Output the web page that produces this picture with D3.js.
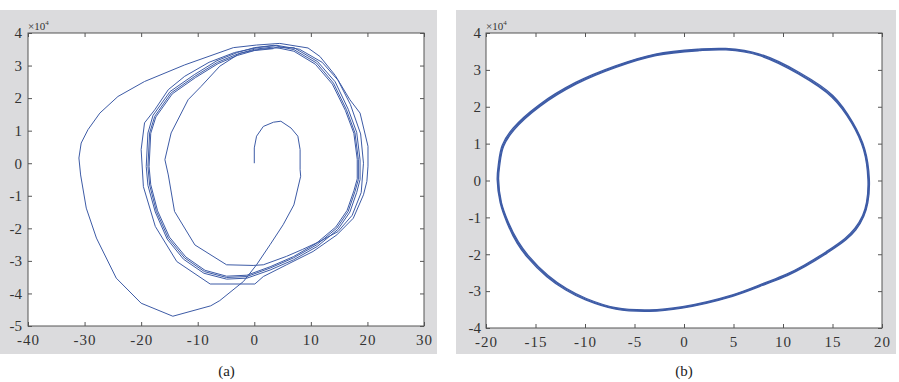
<!DOCTYPE html>
<html>
<head>
<meta charset="utf-8">
<script src="https://cdn.jsdelivr.net/npm/d3@7"></script>
<style>
  body { margin: 0; background: #fff; }
  svg { display: block; }
</style>
</head>
<body>
<svg id="chart" width="899" height="382"></svg>
<script>
// ---- data (y values in units of 1e4) ----
const leftXTicks = [-40, -30, -20, -10, 0, 10, 20, 30];
const leftYTicks = [-5, -4, -3, -2, -1, 0, 1, 2, 3, 4];
const rightXTicks = [-20, -15, -10, -5, 0, 5, 10, 15, 20];
const rightYTicks = [-4, -3, -2, -1, 0, 1, 2, 3, 4];

// (a) transient spiral from the origin out to the big first orbit
const transient = [
  [0,0],[0,0.47],[0.4,0.83],[1.6,1.13],[3.4,1.26],[4.7,1.29],[6.5,1.08],[7.7,0.83],[8.1,0.42],[8.1,-0.2],
  [8.2,-0.4],[7.0,-1.28],[5.1,-1.89],[2.8,-2.5],[0.4,-3.12],[-1.9,-3.63],[-6.1,-4.22],[-7.7,-4.38],[-14.4,-4.7],
  [-20,-4.3],[-24.4,-3.53],[-27.9,-2.3],[-29.7,-1.38],[-30.7,-0.36],[-31,0.16],[-30.6,0.62],[-29.4,1.03],
  [-27.3,1.54],[-24.1,2.05],[-19.4,2.51],[-12.3,3.02],[-3.7,3.55],[0.4,3.63],[4.5,3.68],[9.5,3.54],[11.6,3.28],
  [14.3,2.7],[16.9,1.95],[18.7,1.54],[20.1,0.52],[20.1,-0.09],[19.9,-0.56],[19.3,-0.97],[17.5,-1.69],[14.6,-2.2],
  [10.4,-2.71],[5.7,-3.12],[1.6,-3.48],[0.1,-3.71],[-7.8,-3.71],[-13.7,-3.02],[-17.5,-1.94],[-19.6,-0.72],
  [-20,0.42],[-19.4,1.24],[-17.6,1.64],[-15.2,2.26],[-12.3,2.67],[-8,3.1],[-3.5,3.4],[0.5,3.55],[4.0,3.62]
];
// (a) second orbit, dipping inside the cycle
const innerOrbit = [
  [8,3.5],[12,3.1],[14.8,2.55],[17,1.8],[18.8,0.9],[19.3,0],[18.9,-0.9],[17.3,-1.6],[14.8,-2.1],[11.6,-2.4],
  [8.5,-2.65],[5.7,-2.86],[1.6,-3.12],[-0.2,-3.14],[-4.9,-3.12],[-10.5,-2.51],[-14.1,-1.48],[-15.2,-0.36],
  [-15.8,0.11],[-14.7,0.93],[-11.7,1.95],[-9.4,2.36],[-6.1,2.98],[-2.5,3.38],[1,3.5],[4.5,3.55]
];
// (a) orbits settling on the limit cycle
const cycleB = [
  [7,3.55],[11.2,3.12],[14.3,2.5],[16.6,1.66],[18.1,0.95],[18.7,0.1],[18.7,-0.5],[18.1,-0.9],[16.9,-1.5],
  [14.8,-2.03],[11.1,-2.56],[6.9,-2.97],[2.8,-3.28],[-1.3,-3.53],[-4.9,-3.56],[-8.9,-3.38],[-12.5,-2.95],
  [-15.4,-2.33],[-17.5,-1.5],[-18.8,-0.68],[-19.1,-0.1],[-18.8,0.93],[-17.9,1.47],[-14.9,2.2],[-10.6,2.72],
  [-6.6,3.15],[-3,3.4],[0,3.55],[3.4,3.62]
];
const cycleA = [
  [7,3.49],[11,3.08],[14,2.46],[16.3,1.64],[17.8,0.93],[18.4,0.11],[18.4,-0.5],[17.8,-0.87],[16.6,-1.48],
  [14.6,-1.99],[11,-2.51],[6.9,-2.91],[2.8,-3.22],[-1.3,-3.48],[-4.9,-3.51],[-8.8,-3.33],[-12.3,-2.91],
  [-15.2,-2.3],[-17.3,-1.48],[-18.5,-0.67],[-18.8,-0.1],[-18.5,0.93],[-17.6,1.44],[-14.7,2.16],[-10.5,2.67],
  [-6.5,3.1],[-3,3.35],[0,3.5],[3.4,3.57]
];
const cycleC = [
  [7,3.44],[10.8,3.04],[13.8,2.43],[16.1,1.62],[17.6,0.92],[18.2,0.12],[18.2,-0.48],[17.6,-0.85],[16.4,-1.45],
  [14.4,-1.96],[10.9,-2.47],[6.9,-2.87],[2.8,-3.18],[-1.3,-3.44],[-4.9,-3.47],[-8.7,-3.29],[-12.1,-2.88],
  [-15,-2.27],[-17.1,-1.46],[-18.3,-0.66],[-18.6,-0.1],[-18.3,0.92],[-17.4,1.42],[-14.5,2.13],[-10.4,2.63],
  [-6.4,3.06],[-3,3.31],[0,3.46],[3.4,3.52]
];

// (b) steady-state cycle, a few overlapping laps
const rightLoopA = [
  [-18.8,0.03],[-18.7,0.39],[-18.3,0.93],[-17.2,1.4],[-14.6,2.03],[-10.9,2.64],[-6.9,3.09],[-2.86,3.41],
  [1.5,3.54],[4.2,3.56],[7.6,3.41],[11.6,2.91],[15.0,2.28],[17.0,1.56],[18.2,0.84],[18.65,0.03],[18.5,-0.6],
  [18.1,-0.96],[17.3,-1.32],[16.3,-1.59],[14.4,-1.95],[12.2,-2.31],[10.4,-2.56],[8.25,-2.79],[4.9,-3.12],
  [-0.17,-3.44],[-3.5,-3.53],[-6.9,-3.47],[-9.9,-3.22],[-11.9,-2.95],[-13.8,-2.59],[-15.8,-2.05],[-16.8,-1.68],
  [-17.8,-1.14],[-18.5,-0.6]
];
const rightLoopB = [
  [-18.87,0.02],[-18.77,0.4],[-18.37,0.95],[-17.27,1.42],[-14.66,2.05],[-10.95,2.66],[-6.93,3.11],[-2.88,3.43],
  [1.46,3.56],[4.2,3.58],[7.64,3.43],[11.66,2.93],[15.06,2.3],[17.06,1.57],[18.26,0.85],[18.72,0.04],[18.57,-0.6],
  [18.16,-0.97],[17.36,-1.34],[16.36,-1.61],[14.45,-1.97],[12.25,-2.33],[10.44,-2.58],[8.28,-2.81],[4.9,-3.14],
  [-0.2,-3.46],[-3.5,-3.55],[-6.9,-3.49],[-9.94,-3.24],[-11.95,-2.97],[-13.86,-2.61],[-15.86,-2.07],[-16.86,-1.7],
  [-17.87,-1.15],[-18.57,-0.6]
];
const rightLoopC = [
  [-18.73,0.04],[-18.63,0.38],[-18.23,0.92],[-17.14,1.38],[-14.55,2.01],[-10.86,2.62],[-6.87,3.07],[-2.84,3.39],
  [1.52,3.52],[4.24,3.54],[7.57,3.39],[11.55,2.89],[14.94,2.26],[16.95,1.55],[18.14,0.83],[18.58,0.02],[18.43,-0.6],
  [18.04,-0.95],[17.25,-1.3],[16.25,-1.57],[14.36,-1.93],[12.16,-2.29],[10.36,-2.54],[8.22,-2.77],[4.9,-3.1],
  [-0.15,-3.42],[-3.5,-3.51],[-6.9,-3.45],[-9.86,-3.2],[-11.86,-2.93],[-13.75,-2.57],[-15.74,-2.03],[-16.74,-1.66],
  [-17.74,-1.13],[-18.44,-0.6]
];

const leftTrack = [].concat(transient, innerOrbit, cycleB, cycleA, cycleC);
const rightLoops = [rightLoopB, rightLoopA, rightLoopC];

// ---- layout ----
const svg = d3.select("#chart");
const lineColor = "#3d5ba6";
const serif = '"Liberation Serif", "Times New Roman", serif';

const panels = [
  { bg: [0, 10, 437, 344], left: 28, right: 424, top: 33, bottom: 326,
    xDomain: [-40, 30], yDomain: [-5, 4], xTicks: leftXTicks, yTicks: leftYTicks, yPad: 6, caption: "(a)" },
  { bg: [456, 10, 440, 344], left: 486, right: 882, top: 33, bottom: 328,
    xDomain: [-20, 20], yDomain: [-4, 4], xTicks: rightXTicks, yTicks: rightYTicks, yPad: 5, caption: "(b)" }
];

panels.forEach((p, i) => {
  const g = svg.append("g");

  g.append("rect")
    .attr("x", p.bg[0]).attr("y", p.bg[1])
    .attr("width", p.bg[2]).attr("height", p.bg[3])
    .attr("fill", "#dbdbdd");

  g.append("rect")
    .attr("x", p.left).attr("y", p.top)
    .attr("width", p.right - p.left).attr("height", p.bottom - p.top)
    .attr("fill", "#fff");

  const x = d3.scaleLinear().domain(p.xDomain).range([p.left, p.right]);
  const y = d3.scaleLinear().domain(p.yDomain).range([p.bottom, p.top]);

  // curves
  const plot = g.append("g");
  if (i === 0) {
    const line = d3.line().x(d => x(d[0])).y(d => y(d[1]));
    plot.append("path")
      .attr("d", line(leftTrack))
      .attr("fill", "none")
      .attr("stroke", lineColor)
      .attr("stroke-width", 1)
      .attr("stroke-linejoin", "round");
  } else {
    const loop = d3.line().x(d => x(d[0])).y(d => y(d[1])).curve(d3.curveCatmullRomClosed);
    plot.selectAll("path")
      .data(rightLoops)
      .join("path")
        .attr("d", d => loop(d))
        .attr("fill", "none")
        .attr("stroke", lineColor)
        .attr("stroke-width", 1.3);
  }

  // axes: inward ticks on all four sides, MATLAB style
  const fmt = d => String(d);
  const styleAxis = sel => {
    sel.attr("font-family", serif).attr("font-size", 15);
    sel.selectAll("text").attr("fill", "#333");
    sel.selectAll("line").attr("stroke", "#555");
  };

  g.append("g")
    .attr("transform", `translate(0,${p.bottom})`)
    .call(d3.axisBottom(x).tickValues(p.xTicks).tickSize(-4).tickPadding(8).tickFormat(fmt))
    .call(styleAxis)
    .selectAll("text").style("letter-spacing", "1px");

  g.append("g")
    .attr("transform", `translate(${p.left},0)`)
    .call(d3.axisLeft(y).tickValues(p.yTicks).tickSize(-4).tickPadding(p.yPad).tickFormat(fmt))
    .call(styleAxis);

  g.append("g")
    .attr("transform", `translate(0,${p.top})`)
    .call(d3.axisTop(x).tickValues(p.xTicks).tickSize(-4).tickFormat(""))
    .call(styleAxis);

  g.append("g")
    .attr("transform", `translate(${p.right},0)`)
    .call(d3.axisRight(y).tickValues(p.yTicks).tickSize(-4).tickFormat(""))
    .call(styleAxis);

  g.selectAll(".domain").remove();

  g.append("rect")
    .attr("x", p.left).attr("y", p.top)
    .attr("width", p.right - p.left).attr("height", p.bottom - p.top)
    .attr("fill", "none")
    .attr("stroke", "#555")
    .attr("stroke-width", 1);

  // exponent label
  const ex = g.append("text")
    .attr("x", p.left).attr("y", p.top - 3)
    .attr("font-family", serif).attr("font-size", 11).attr("fill", "#333");
  ex.append("tspan").text("×10");
  ex.append("tspan").attr("dy", -5).attr("font-size", 7).text("4");

  // caption
  g.append("text")
    .attr("x", p.bg[0] + p.bg[2] / 2 + 8)
    .attr("y", 376)
    .attr("text-anchor", "middle")
    .attr("font-family", serif).attr("font-size", 15).attr("fill", "#222")
    .text(p.caption);
});
</script>
</body>
</html>
